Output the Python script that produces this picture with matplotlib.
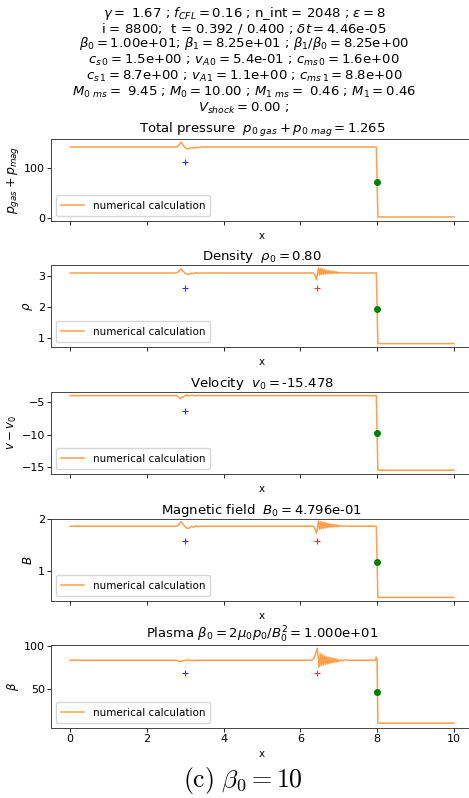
import numpy as np
import matplotlib.pyplot as plt

# ---- data ----
x_ticks = [0, 2, 4, 6, 8, 10]

# total pressure
x_p = [0, 2.78, 2.84, 2.89, 2.95, 3.02, 3.10, 3.16, 3.22, 3.28, 3.34, 3.40, 7.98, 8.02, 10]
y_p = [142, 142, 146, 152, 145, 139, 138.5, 141, 140, 141.5, 141, 142, 142, 2, 2]

# density
x_rho = [0, 2.78, 2.84, 2.89, 2.95, 3.02, 3.10, 3.16, 3.22, 3.28, 3.34, 3.40,
         6.34, 6.38, 6.42, 6.45, 6.475, 6.50, 6.525, 6.55, 6.575, 6.60, 6.625, 6.65,
         6.675, 6.70, 6.725, 6.75, 6.775, 6.80, 6.825, 6.85, 6.875, 6.90, 6.925, 6.95,
         6.975, 7.00, 7.05, 7.10, 7.15, 7.25, 7.98, 8.02, 10]
y_rho = [3.10, 3.10, 3.17, 3.24, 3.15, 3.07, 3.06, 3.10, 3.08, 3.11, 3.09, 3.10,
         3.10, 3.04, 2.88, 3.10, 3.26, 3.03, 3.25, 3.05, 3.23, 3.06, 3.21, 3.07,
         3.19, 3.07, 3.18, 3.08, 3.17, 3.08, 3.16, 3.085, 3.15, 3.09, 3.14, 3.09,
         3.13, 3.095, 3.12, 3.10, 3.11, 3.10, 3.10, 0.81, 0.81]

# velocity
x_v = [0, 2.78, 2.87, 2.95, 3.02, 3.10, 3.18, 3.26, 3.34, 3.42, 7.98, 8.02, 10]
y_v = [-3.98, -3.98, -4.45, -4.15, -3.90, -3.98, -3.93, -3.99, -3.95, -3.98, -3.98, -15.46, -15.46]

# magnetic field
x_B = [0, 2.78, 2.84, 2.89, 2.95, 3.02, 3.10, 3.16, 3.22, 3.28, 3.34, 3.40,
       6.34, 6.38, 6.42, 6.45, 6.475, 6.50, 6.525, 6.55, 6.575, 6.60, 6.625, 6.65,
       6.675, 6.70, 6.725, 6.75, 6.775, 6.80, 6.825, 6.85, 6.875, 6.90, 6.925, 6.95,
       6.975, 7.00, 7.05, 7.10, 7.15, 7.25, 7.98, 8.02, 10]
y_B = [1.86, 1.86, 1.90, 1.95, 1.89, 1.83, 1.82, 1.86, 1.84, 1.87, 1.85, 1.86,
       1.86, 1.81, 1.72, 1.85, 1.96, 1.80, 1.95, 1.81, 1.94, 1.82, 1.93, 1.83,
       1.92, 1.83, 1.91, 1.84, 1.90, 1.84, 1.895, 1.845, 1.89, 1.85, 1.885, 1.85,
       1.88, 1.855, 1.875, 1.86, 1.865, 1.86, 1.86, 0.48, 0.48]

# plasma beta
x_beta = [0, 2.78, 2.85, 2.95, 3.05, 3.20, 3.40,
          6.30, 6.36, 6.40, 6.44, 6.47, 6.49, 6.52, 6.545, 6.57, 6.595, 6.62, 6.645,
          6.67, 6.695, 6.72, 6.745, 6.77, 6.795, 6.82, 6.845, 6.87, 6.895, 6.92,
          6.945, 6.97, 7.00, 7.05, 7.10, 7.15, 7.25, 7.96, 7.98, 8.00, 8.02, 10]
y_beta = [83.3, 83.3, 81.8, 82.6, 83.6, 83.0, 83.3,
          83.3, 86, 91, 97, 85, 75.5, 91, 77, 89.5, 78, 88.5, 78.5, 87.5, 79, 87,
          79.5, 86.5, 80, 86, 80.5, 85.5, 81, 85, 81.5, 84.5, 82, 84, 82.5, 83.8,
          83.3, 83.3, 87, 83, 11.2, 11.2]

# markers: blue +, red +, green dot
blue_x = 3.0
red_x = 6.43
green_x = 8.0
blue_y = [113, 2.63, -6.34, 1.58, 68.6]
red_y = [None, 2.63, None, 1.58, 68.6]
green_y = [72, 1.94, -9.8, 1.175, 46.6]

titles = [r"Total pressure  $p_{0\ gas} + p_{0\ mag} = 1.265$",
          r"Density  $\rho_0 = 0.80$",
          r"Velocity  $v_0 = $-15.478",
          r"Magnetic field  $B_0 = $4.796e-01",
          r"Plasma $\beta_0 = 2\mu_0 p_0/B_0^2 = $1.000e+01"]
ylabels = [r"$p_{gas} + p_{mag}$", r"$\rho$", r"$v - v_0$", r"$B$", r"$\beta$"]
ylims = [(-6, 158), (0.70, 3.36), (-16.03, -3.42), (0.41, 2.0), (5.7, 100.8)]
yticks = [[0, 100], [1, 2, 3], [-5, -10, -15], [1, 2], [50, 100]]

header = [r"$\gamma = $ 1.67 ; $f_{CFL} = 0.16$ ; n_int = 2048 ; $\epsilon = 8$",
          r"i = 8800;  t = 0.392 / 0.400 ; $\delta t = $4.46e-05",
          r"$\beta_0 = $1.00e+01; $\beta_1 = $8.25e+01 ; $\beta_1/\beta_0 = $8.25e+00",
          r"$c_{s\,0} = $1.5e+00 ; $v_{A\,0} = $5.4e-01 ; $c_{ms\,0} = $1.6e+00",
          r"$c_{s\,1} = $8.7e+00 ; $v_{A\,1} = $1.1e+00 ; $c_{ms\,1} = $8.8e+00",
          r"$M_{0\ ms} = $ 9.45 ; $M_0 = 10.00$ ; $M_{1\ ms} = $ 0.46 ; $M_1 = 0.46$",
          r"$V_{shock} = 0.00$ ;"]

xs = [x_p, x_rho, x_v, x_B, x_beta]
ys = [y_p, y_rho, y_v, y_B, y_beta]

W, H = 469, 798
fig = plt.figure(figsize=(W / 100, H / 100), dpi=100)

# header lines (pixel centres)
head_y = [13, 28, 44, 60, 76, 92, 108]
for txt, yy in zip(header, head_y):
    fig.text(244 / W, 1 - yy / H, txt, ha='center', va='center', fontsize=9.5)

# axes boxes in pixels: top, bottom
boxes = [(139, 221), (265, 347), (392, 474), (519, 601), (645, 728)]
left, right = 51, 473

for i in range(5):
    top, bot = boxes[i]
    hgt = bot - top
    ax = fig.add_axes([left / W, 1 - bot / H, (right - left) / W, hgt / H])
    ax.plot(xs[i], ys[i], color='#ff7f0e', alpha=0.75, lw=1.1, label='numerical calculation')
    ax.plot(blue_x, blue_y[i], '+', mec='#3030ff', ms=4, mew=0.8)
    if red_y[i] is not None:
        ax.plot(red_x, red_y[i], '+', mec='#ff3030', ms=4, mew=0.8)
    ax.plot(green_x, green_y[i], 'o', color='green', ms=4)
    ax.set_xlim(-0.5, 10.5)
    ax.set_ylim(*ylims[i])
    ax.set_xticks(x_ticks)
    ax.set_yticks(yticks[i])
    ax.tick_params(labelsize=8, length=3, width=0.6, pad=1.5)
    ax.set_xlabel('x', fontsize=7.5)
    if i < 4:
        ax.set_xticklabels([])
        ax.xaxis.set_label_coords(0.5, -10 / hgt)
    else:
        ax.xaxis.set_label_coords(0.5, -21 / hgt)
    ax.set_ylabel(ylabels[i], fontsize=9 if i == 0 else 8.5, labelpad=2)
    ax.set_title(titles[i], fontsize=9.5, pad=3)
    for s in ax.spines.values():
        s.set_linewidth(0.7)
        s.set_color('#444444')
    ax.legend(loc='lower left', fontsize=7.5, handlelength=2.2, borderpad=0.5)

fig.text(243 / W, 1 - 780 / H, r"$\mathrm{(c)}\ \beta_0 = 10$", ha='center', va='center',
         fontsize=18.5, math_fontfamily='cm')

fig.savefig('out.png', dpi=100)
